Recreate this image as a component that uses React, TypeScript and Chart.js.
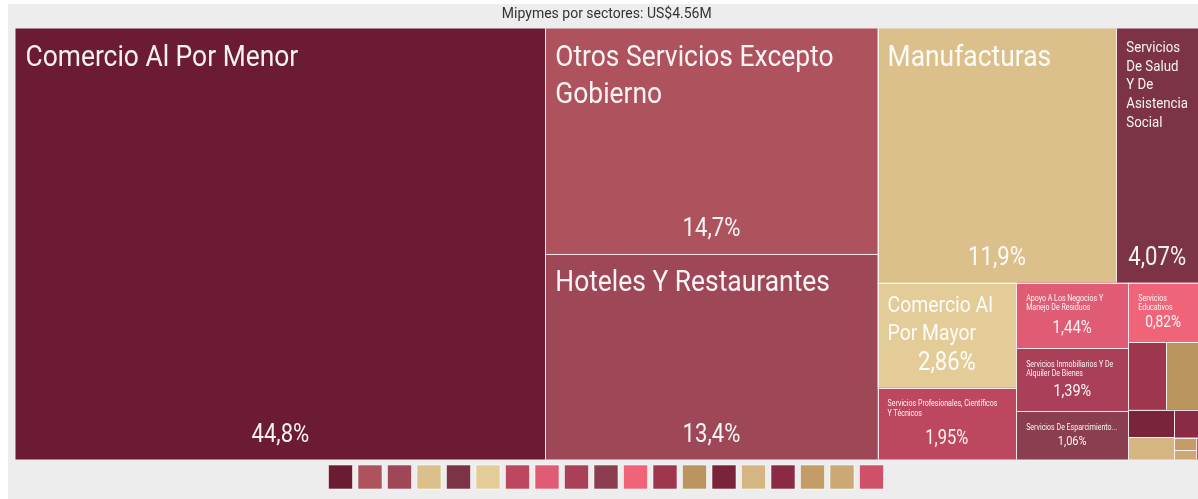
import React, { useEffect, useRef } from 'react';
import { Chart, registerables } from 'chart.js';

Chart.register(...registerables);

const chartTitle = 'Mipymes por sectores: US$4.56M';

const sectors = [
  'Comercio Al Por Menor',
  'Otros Servicios Excepto Gobierno',
  'Hoteles Y Restaurantes',
  'Manufacturas',
  'Servicios De Salud Y De Asistencia Social',
  'Comercio Al Por Mayor',
  'Servicios Profesionales, Científicos Y Técnicos',
  'Apoyo A Los Negocios Y Manejo De Residuos',
  'Servicios Inmobiliarios Y De Alquiler De Bienes',
  'Servicios De Esparcimiento Culturales Y Deportivos',
  'Servicios Educativos',
  'Construcción',
  'Transportes, Correos Y Almacenamiento',
  'Información En Medios Masivos',
  'Servicios Financieros Y De Seguros',
  'Agricultura, Cría Y Aprovechamiento Forestal',
  'Minería',
  'Energía Eléctrica, Agua Y Gas',
  'Corporativos',
];

const shares = [44.8, 14.7, 13.4, 11.9, 4.07, 2.86, 1.95, 1.44, 1.39, 1.06, 0.82, 0.5, 0.42, 0.25, 0.2, 0.13, 0.053, 0.039, 0.01];

const colors = [
  '#6b1c33', '#ae525e', '#9e4757', '#dcc08c', '#7c3346', '#e4cc99', '#be4760',
  '#e05c74', '#aa4058', '#8a3e50', '#ef6479', '#9e364e', '#bb9560', '#7a243c',
  '#d5b683', '#8b2a45', '#c39c68', '#cca974', '#cf5169',
];

const LABEL_FONT = 'Roboto, "Noto Sans", sans-serif';
const TITLE_TIERS = [30, 22, 16, 8.3];
const PCT_SX = 0.85;
const titleSx = (size: number) => (size < 12 ? 0.85 : 0.88);

type Cell = { i: number; x0: number; y0: number; x1: number; y1: number };

function squarify(values: number[], ax0: number, ay0: number, ax1: number, ay1: number): Cell[] {
  const ratio = (1 + Math.sqrt(5)) / 2;
  const idx = values.map((_, i) => i).sort((a, b) => values[b] - values[a]);
  const out: Cell[] = [];
  let x0 = ax0, y0 = ay0;
  const x1 = ax1, y1 = ay1;
  let value = idx.reduce((s, i) => s + values[i], 0);
  const n = idx.length;
  let i0 = 0, i1 = 0;
  while (i0 < n) {
    const dx = x1 - x0, dy = y1 - y0;
    let sumValue = 0;
    do { sumValue = values[idx[i1++]]; } while (!sumValue && i1 < n);
    let minValue = sumValue, maxValue = sumValue;
    const alpha = Math.max(dy / dx, dx / dy) / (value * ratio);
    let beta = sumValue * sumValue * alpha;
    let minRatio = Math.max(maxValue / beta, beta / minValue);
    for (; i1 < n; ++i1) {
      const nv = values[idx[i1]];
      sumValue += nv;
      if (nv < minValue) minValue = nv;
      if (nv > maxValue) maxValue = nv;
      beta = sumValue * sumValue * alpha;
      const newRatio = Math.max(maxValue / beta, beta / minValue);
      if (newRatio > minRatio) { sumValue -= nv; break; }
      minRatio = newRatio;
    }
    const row = idx.slice(i0, i1);
    if (dx < dy) {
      const ny = y0 + dy * sumValue / value;
      let x = x0;
      const k = (x1 - x0) / sumValue;
      row.forEach((j) => { const w = values[j] * k; out.push({ i: j, x0: x, y0, x1: x + w, y1: ny }); x += w; });
      y0 = ny;
    } else {
      const nx = x0 + dx * sumValue / value;
      let y = y0;
      const k = (y1 - y0) / sumValue;
      row.forEach((j) => { const h = values[j] * k; out.push({ i: j, x0, y0: y, x1: nx, y1: y + h }); y += h; });
      x0 = nx;
    }
    value -= sumValue;
    i0 = i1;
  }
  return out;
}

function setFont(ctx: CanvasRenderingContext2D, size: number) {
  ctx.font = `${size}px ${LABEL_FONT}`;
}
function textW(ctx: CanvasRenderingContext2D, text: string, size: number) {
  setFont(ctx, size);
  return ctx.measureText(text).width * titleSx(size);
}
function wrapWords(ctx: CanvasRenderingContext2D, text: string, size: number, maxW: number) {
  const words = text.split(' ');
  const lines: string[] = [];
  let cur = '';
  for (const w of words) {
    const t = cur ? cur + ' ' + w : w;
    if (!cur || textW(ctx, t, size) <= maxW) cur = t;
    else { lines.push(cur); cur = w; }
  }
  if (cur) lines.push(cur);
  return lines;
}
function drawText(ctx: CanvasRenderingContext2D, text: string, x: number, y: number, size: number, align: CanvasTextAlign, sx: number) {
  ctx.save();
  setFont(ctx, size);
  ctx.translate(x, y);
  ctx.scale(sx, 1);
  ctx.textAlign = align;
  ctx.textBaseline = 'alphabetic';
  ctx.fillText(text, 0, 0);
  ctx.restore();
}
function formatPct(p: number) {
  return (p >= 10 ? p.toFixed(1) : p.toFixed(2)).replace('.', ',') + '%';
}

const treemapPlugin = {
  id: 'treemapCells',
  afterDatasetsDraw(chart: any, _args: any, opts: any) {
    const ctx: CanvasRenderingContext2D = chart.ctx;
    const xs = chart.scales.x, ys = chart.scales.y;
    const values: number[] = opts.values;
    const names: string[] = opts.names;
    const fills: string[] = opts.colors;
    const left = xs.getPixelForValue(0), right = xs.getPixelForValue(1);
    const top = ys.getPixelForValue(1), bottom = ys.getPixelForValue(0);
    const total = values.reduce((a, b) => a + b, 0);
    const cells = squarify(values, left, top, right, bottom);
    ctx.save();
    cells.forEach((c) => {
      ctx.fillStyle = fills[c.i];
      ctx.fillRect(c.x0, c.y0, c.x1 - c.x0, c.y1 - c.y0);
    });
    ctx.fillStyle = 'rgba(255,255,255,0.85)';
    cells.forEach((c) => {
      if (c.x0 > left + 0.5) ctx.fillRect(Math.round(c.x0), c.y0, 1, c.y1 - c.y0);
      if (c.y0 > top + 0.5) ctx.fillRect(c.x0, Math.round(c.y0), c.x1 - c.x0, 1);
    });
    ctx.fillStyle = 'rgba(255,255,255,0.94)';
    cells.forEach((c) => {
      const w = c.x1 - c.x0, h = c.y1 - c.y0;
      if (w < 50 || h < 40) return;
      const pad = 10;
      const ps = Math.min(26, 0.27 * h, 0.33 * w);
      const pctBase = c.y1 - (11 + 0.25 * ps);
      const pctTop = pctBase - 0.72 * ps;
      const name = names[c.i];
      let chosen: { s: number; lines: string[]; lh: number; first: number } | null = null;
      for (const t of TITLE_TIERS) {
        const isMin = t === TITLE_TIERS[TITLE_TIERS.length - 1];
        const availW = w - 2 * pad - (isMin ? 4 : 0);
        const longest = Math.max(...name.split(' ').map((wd) => textW(ctx, wd, t)));
        let s = t;
        if (longest > availW) s = (t * availW) / longest;
        if (!isMin && s < t - 2.5) continue;
        const lh = s < 12 ? s * 1.13 : s * 1.24;
        const first = c.y0 + pad + 0.9 * s + (s < 12 ? 1 : 0);
        const lines = wrapWords(ctx, name, s, availW);
        const bottomOf = (k: number) => first + (k - 1) * lh + 0.2 * s;
        if (bottomOf(lines.length) <= pctTop) { chosen = { s, lines, lh, first }; break; }
        if (isMin) {
          let maxLines = 0;
          while (maxLines < lines.length && bottomOf(maxLines + 1) <= pctTop) maxLines++;
          if (maxLines >= 1) {
            const kept = lines.slice(0, maxLines);
            const words = kept[maxLines - 1].split(' ');
            let last = words.join(' ') + '...';
            while (words.length > 1 && textW(ctx, last, s) > availW + 8) { words.pop(); last = words.join(' ') + '...'; }
            kept[maxLines - 1] = last;
            chosen = { s, lines: kept, lh, first };
          }
        }
      }
      if (chosen) {
        const ch = chosen;
        ch.lines.forEach((ln, k) => drawText(ctx, ln, c.x0 + pad, ch.first + k * ch.lh, ch.s, 'left', titleSx(ch.s)));
      }
      drawText(ctx, formatPct((values[c.i] / total) * 100), (c.x0 + c.x1) / 2, pctBase, ps, 'center', PCT_SX);
    });
    ctx.restore();
  },
};

export default function App() {
  const ref = useRef<HTMLCanvasElement>(null);
  useEffect(() => {
    const chart = new Chart(ref.current as HTMLCanvasElement, {
      type: 'scatter',
      data: {
        datasets: sectors.map((s, i) => ({
          label: s,
          data: [],
          backgroundColor: colors[i],
          borderColor: colors[i],
        })),
      },
      options: {
        animation: false,
        responsive: false,
        devicePixelRatio: 1,
        events: [],
        layout: { padding: { left: 7.5, right: 0, top: 0, bottom: 0 } },
        scales: {
          x: { type: 'linear', min: 0, max: 1, display: false },
          y: { type: 'linear', min: -0.0035, max: 1, display: false },
        },
        plugins: {
          title: {
            display: true,
            text: chartTitle,
            color: '#333333',
            font: { family: 'Roboto', size: 14, weight: 'normal' },
            padding: { top: 2, bottom: 5.7 },
          },
          legend: {
            display: true,
            position: 'bottom',
            labels: {
              boxWidth: 24,
              boxHeight: 24,
              padding: 4,
              font: { size: 3 },
              generateLabels: (ch: any) =>
                ch.data.datasets.map((ds: any, i: number) => ({
                  text: '',
                  fillStyle: ds.backgroundColor,
                  strokeStyle: 'rgba(255,255,255,0.55)',
                  lineWidth: 1,
                  hidden: false,
                  datasetIndex: i,
                })),
            },
          },
          tooltip: { enabled: false },
          treemapCells: { values: shares, names: sectors, colors },
        } as any,
      },
      plugins: [treemapPlugin as any],
    });
    return () => chart.destroy();
  }, []);
  return (
    <div style={{ position: 'absolute', left: 8, top: 4, width: 1190, height: 495, background: '#ededed', overflow: 'hidden' }}>
      <canvas ref={ref} width={1190} height={495} style={{ display: 'block', width: 1190, height: 495 }} />
    </div>
  );
}
